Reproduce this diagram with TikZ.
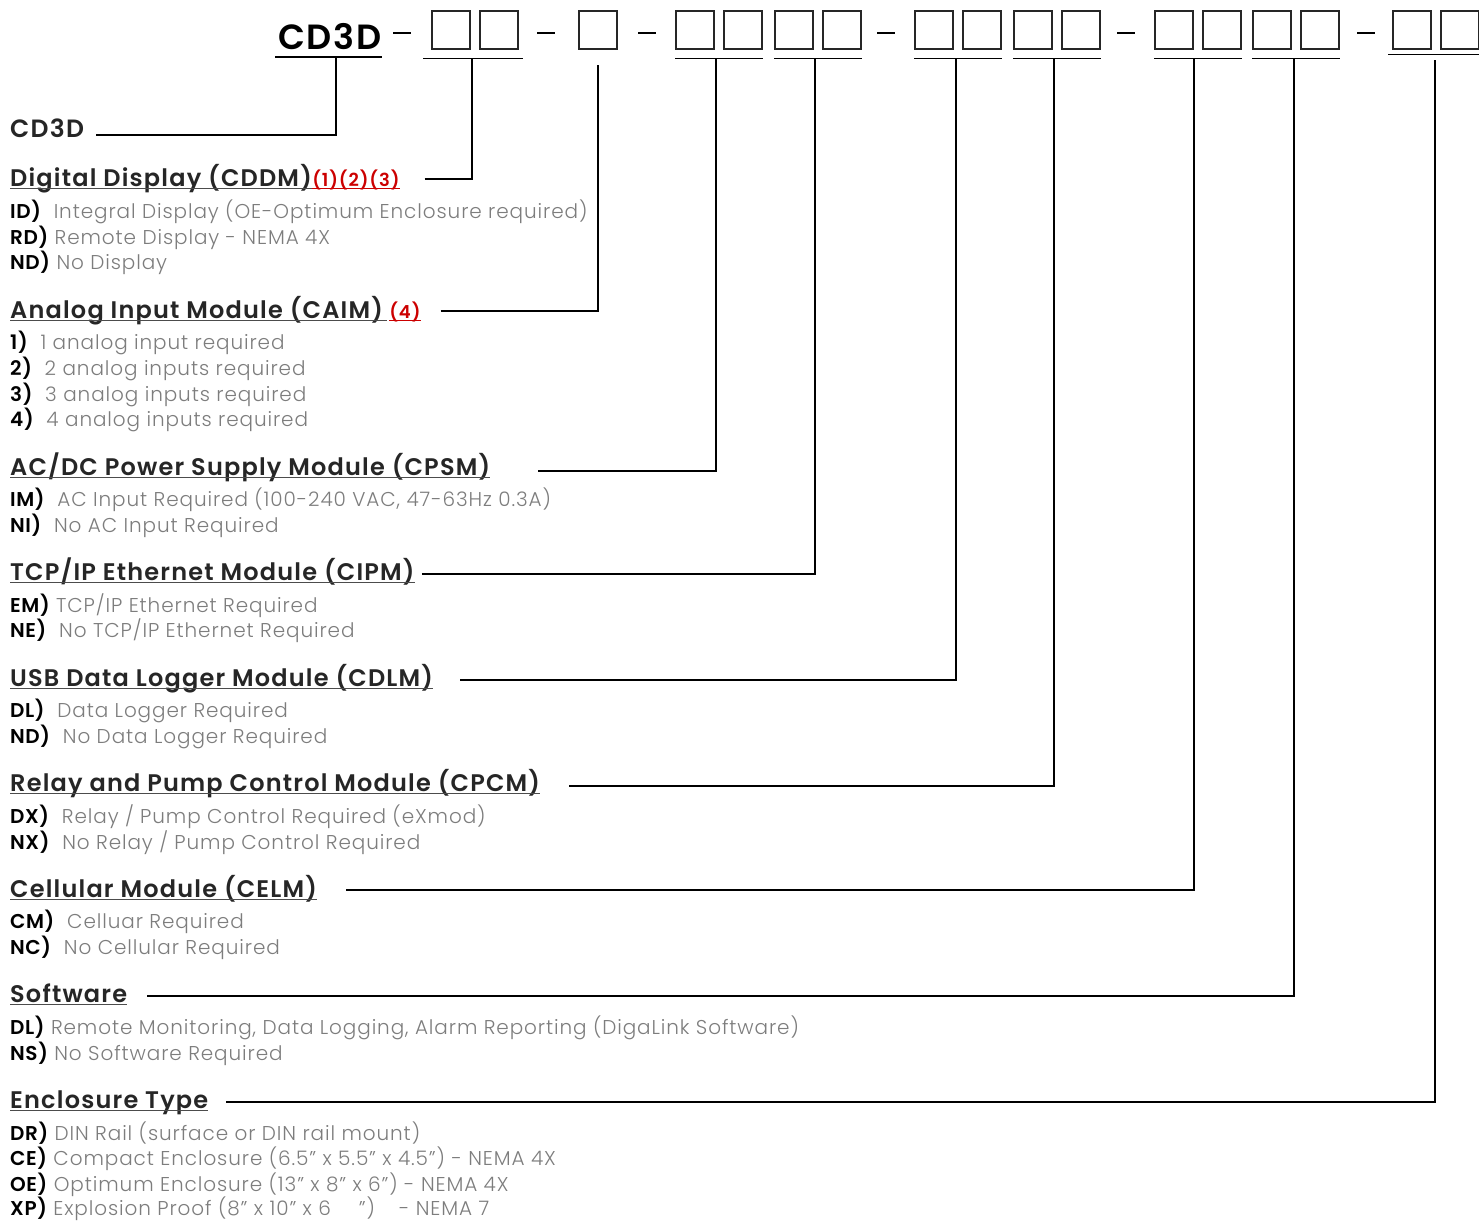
\documentclass[tikz,border=0pt]{standalone}
\usepackage{fontspec}
\setmainfont{Poppins}
\newfontfamily\thinfont{Poppins Light}[LetterSpace=4.5]
\newfontfamily\headfont{Poppins SemiBold}[LetterSpace=5]
\newfontfamily\codefont{Poppins SemiBold}[LetterSpace=3]
\usepackage{xcolor}
\usetikzlibrary{positioning}
\definecolor{descgray}{RGB}{125,125,125}
\definecolor{notered}{RGB}{204,0,0}
\newcommand\optcode[1]{{\codefont\color{black}#1}}

\begin{document}
\begin{tikzpicture}[x=1pt,y=-1pt,
  codebox/.style={draw=black!85,line width=1.3pt,minimum size=38pt,inner sep=0pt},
  title/.style={font=\headfont\fontsize{35}{35}\selectfont,anchor=base west,inner sep=0pt},
  heading/.style={font=\headfont\fontsize{24}{24}\selectfont,text=black!85,anchor=base west,inner sep=0pt},
  note/.style={font=\headfont\fontsize{18}{18}\selectfont,text=notered,anchor=base west,inner sep=0pt},
  option/.style={font=\thinfont\fontsize{20}{20}\selectfont,text=descgray,anchor=base west,inner sep=0pt},
  uline/.style={line width=1.2pt},
  conn/.style={line width=1.2pt},
  elbow/.style={to path={-| (\tikztotarget)}}]
\useasboundingbox (0,0) rectangle (1479,1220);

\node[title] (T) at (278,50) {CD3D};
\foreach \x [count=\i] in {432,480,579,676,724,775,823,915,963,1014,1062,1155,1203,1253,1301,1393,1441}
  \node[codebox] (B\i) at (\x+19,30) {};
\foreach \x in {393,537,638,877,1117,1357}
  \draw[line width=1.8pt] (\x,33) -- (\x+18,33);

\draw[uline] ([xshift=-3pt,yshift=-7pt]T.base west) -- ([yshift=-7pt]T.base east);
\draw[uline] ([xshift=-8pt,yshift=-9pt]B1.south west) -- ([xshift=4pt,yshift=-9pt]B2.south east);
\foreach \a/\b in {4/5,6/7,8/9,10/11,12/13,14/15}
  \draw[uline] ([yshift=-9pt]B\a.south west) -- ([yshift=-9pt]B\b.south east);
\draw[uline] ([xshift=-4pt,yshift=-5pt]B16.south west) -- ([xshift=40pt,yshift=-5pt]B17.south east);

\coordinate (G0) at (336,57);
\coordinate (G1) at (472,58);
\coordinate (G2) at (598,65);
\coordinate (G3) at (716,58);
\coordinate (G4) at (815,58);
\coordinate (G5) at (956,58);
\coordinate (G6) at (1054,58);
\coordinate (G7) at (1194,58);
\coordinate (G8) at (1294,58);
\coordinate (G9) at (1435,60);

\node[heading,font=\headfont\fontsize{25}{25}\selectfont] (H0) at (10,138) {CD3D};
\node[heading] (H1) at (10,186) {Digital Display (CDDM)};
\node[note]    (N1) at (H1.base east) {(1)(2)(3)};
\node[heading] (H2) at (10,318) {Analog Input Module (CAIM)\,};
\node[note]    (N2) at ([xshift=2pt]H2.base east) {(4)};
\node[heading] (H3) at (10,475) {AC/DC Power Supply Module (CPSM)};
\node[heading] (H4) at (10,580) {TCP/IP Ethernet Module (CIPM)};
\node[heading] (H5) at (10,686) {USB Data Logger Module (CDLM)};
\node[heading] (H6) at (10,791) {Relay and Pump Control Module (CPCM)};
\node[heading] (H7) at (10,897) {Cellular Module (CELM)};
\node[heading] (H8) at (10,1002) {Software};
\node[heading] (H9) at (10,1108) {Enclosure Type};

\foreach \n in {H1,H2,H3,H4,H5,H6,H7,H8,H9}
  \draw[uline,black!70] ([yshift=-2.5pt]\n.base west) -- ([yshift=-2.5pt]\n.base east);
\foreach \n in {N1,N2}
  \draw[uline,notered] ([yshift=-2.5pt]\n.base west) -- ([yshift=-2.5pt]\n.base east);

\foreach \y/\txt [count=\i] in {
  218/{\optcode{ID)}\ \ Integral Display (OE-Optimum Enclosure required)},
  244/{\optcode{RD)} Remote Display - NEMA 4X},
  269/{\optcode{ND)} No Display},
  349/{\optcode{1)}\ \ 1 analog input required},
  375/{\optcode{2)}\ \ 2 analog inputs required},
  401/{\optcode{3)}\ \ 3 analog inputs required},
  426/{\optcode{4)}\ \ 4 analog inputs required},
  506/{\optcode{IM)}\ \ AC Input Required (100-240 VAC, 47-63Hz 0.3A)},
  532/{\optcode{NI)}\ \ No AC Input Required},
  612/{\optcode{EM)} TCP/IP Ethernet Required},
  637/{\optcode{NE)}\ \ No TCP/IP Ethernet Required},
  717/{\optcode{DL)}\ \ Data Logger Required},
  743/{\optcode{ND)}\ \ No Data Logger Required},
  823/{\optcode{DX)}\ \ Relay / Pump Control Required (eXmod)},
  849/{\optcode{NX)}\ \ No Relay / Pump Control Required},
  928/{\optcode{CM)}\ \ Celluar Required},
  954/{\optcode{NC)}\ \ No Cellular Required},
  1034/{\optcode{DL)} Remote Monitoring, Data Logging, Alarm Reporting (DigaLink Software)},
  1060/{\optcode{NS)} No Software Required},
  1140/{\optcode{DR)} DIN Rail (surface or DIN rail mount)},
  1165/{\optcode{CE)} Compact Enclosure (6.5” x 5.5” x 4.5”) - NEMA 4X},
  1191/{\optcode{OE)} Optimum Enclosure (13” x 8” x 6”) - NEMA 4X},
  1215/{\optcode{XP)} Explosion Proof (8” x 10” x 6\hspace{28pt}”)\hspace{24pt}- NEMA 7}}
  \node[option] (O\i) at (10,\y) {\txt};

\path[conn]
  ([xshift=12pt,yshift=3pt]H0.base east) edge[elbow] (G0)
  ([xshift=25pt,yshift=7pt]N1.base east) edge[elbow] (G1)
  ([xshift=20pt,yshift=7pt]N2.base east) edge[elbow] (G2)
  ([xshift=48pt,yshift=4pt]H3.base east) edge[elbow] (G3)
  ([xshift=7pt,yshift=6pt]H4.base east)  edge[elbow] (G4)
  ([xshift=27pt,yshift=6pt]H5.base east) edge[elbow] (G5)
  ([xshift=29pt,yshift=5pt]H6.base east) edge[elbow] (G6)
  ([xshift=29pt,yshift=7pt]H7.base east) edge[elbow] (G7)
  ([xshift=20pt,yshift=6pt]H8.base east) edge[elbow] (G8)
  ([xshift=18pt,yshift=6pt]H9.base east) edge[elbow] (G9);
\end{tikzpicture}
\end{document}
